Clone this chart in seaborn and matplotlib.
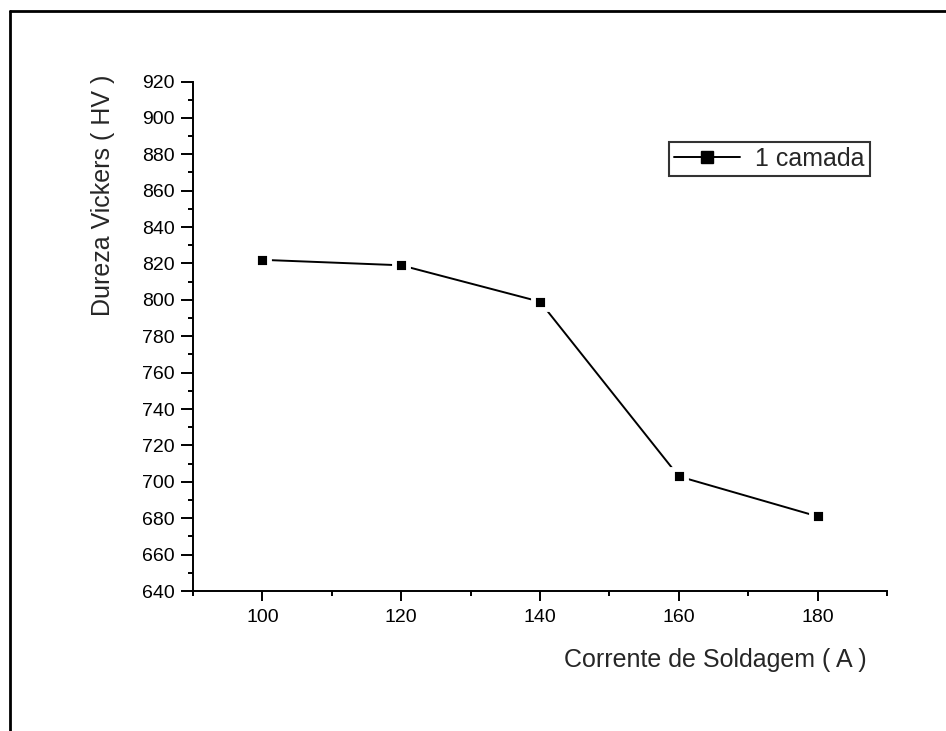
import matplotlib
matplotlib.use("Agg")
import matplotlib.pyplot as plt
from matplotlib.lines import Line2D
from matplotlib.ticker import MultipleLocator
import seaborn as sns
import pandas as pd

# Hardness vs welding current (one layer)
corrente = [100, 120, 140, 160, 180]
dureza = [822, 819, 799, 703, 681]
serie = "1 camada"

sns.set_style("ticks")
plt.rcParams["font.family"] = ["Liberation Sans", "DejaVu Sans"]

df = pd.DataFrame({"Corrente": corrente, "Dureza": dureza, "Serie": serie})

fig = plt.figure(figsize=(9.46, 7.31), dpi=100)
ax = fig.add_axes([0.204, 0.1915, 0.7336, 0.697])

sns.lineplot(
    data=df, x="Corrente", y="Dureza", hue="Serie", palette=["black"],
    marker="s", markersize=10.5, markeredgecolor="white", markeredgewidth=3.5,
    linewidth=1.4, ax=ax,
)

ax.set_xlim(90, 190)
ax.set_ylim(640, 920)
ax.xaxis.set_major_locator(MultipleLocator(20))
ax.xaxis.set_minor_locator(MultipleLocator(10))
ax.yaxis.set_major_locator(MultipleLocator(20))
ax.yaxis.set_minor_locator(MultipleLocator(10))
ax.set_xticks([100, 120, 140, 160, 180])

for side in ("top", "right"):
    ax.spines[side].set_visible(False)
for side in ("left", "bottom"):
    ax.spines[side].set_linewidth(1.4)
    ax.spines[side].set_color("black")

ax.tick_params(axis="y", which="major", direction="out", length=9, width=1.4,
               labelsize=14, pad=4, colors="black")
ax.tick_params(axis="x", which="major", direction="out", length=7, width=1.4,
               labelsize=14, pad=6, colors="black")
ax.tick_params(which="minor", direction="out", length=3.6, width=1.4, colors="black")

ax.set_xlabel("")
ax.set_ylabel("Dureza Vickers ( HV )", fontsize=18)
ax.yaxis.set_label_coords(-0.113, 0.776)
ax.text(0.97, -0.135, "Corrente de Soldagem ( A )", transform=ax.transAxes,
        fontsize=18, ha="right", va="center")

leg = ax.legend(loc="upper right", bbox_to_anchor=(0.9755, 0.881), fontsize=18,
                frameon=True, fancybox=False, handlelength=2.64, handletextpad=0.6,
                borderpad=0.2, borderaxespad=0)
leg.get_frame().set_edgecolor("black")
leg.get_frame().set_linewidth(1.5)
for h in leg.legend_handles:
    h.set_markeredgewidth(1)
    h.set_markeredgecolor("black")
    h.set_markersize(8)

# page frame
fig.add_artist(Line2D([10 / 946, 1.0], [1 - 10.5 / 731] * 2,
                      transform=fig.transFigure, color="black", linewidth=2))
fig.add_artist(Line2D([10.3 / 946] * 2, [0.0, 1 - 10.5 / 731],
                      transform=fig.transFigure, color="black", linewidth=2))

fig.savefig("out.png", dpi=100, facecolor="white")
